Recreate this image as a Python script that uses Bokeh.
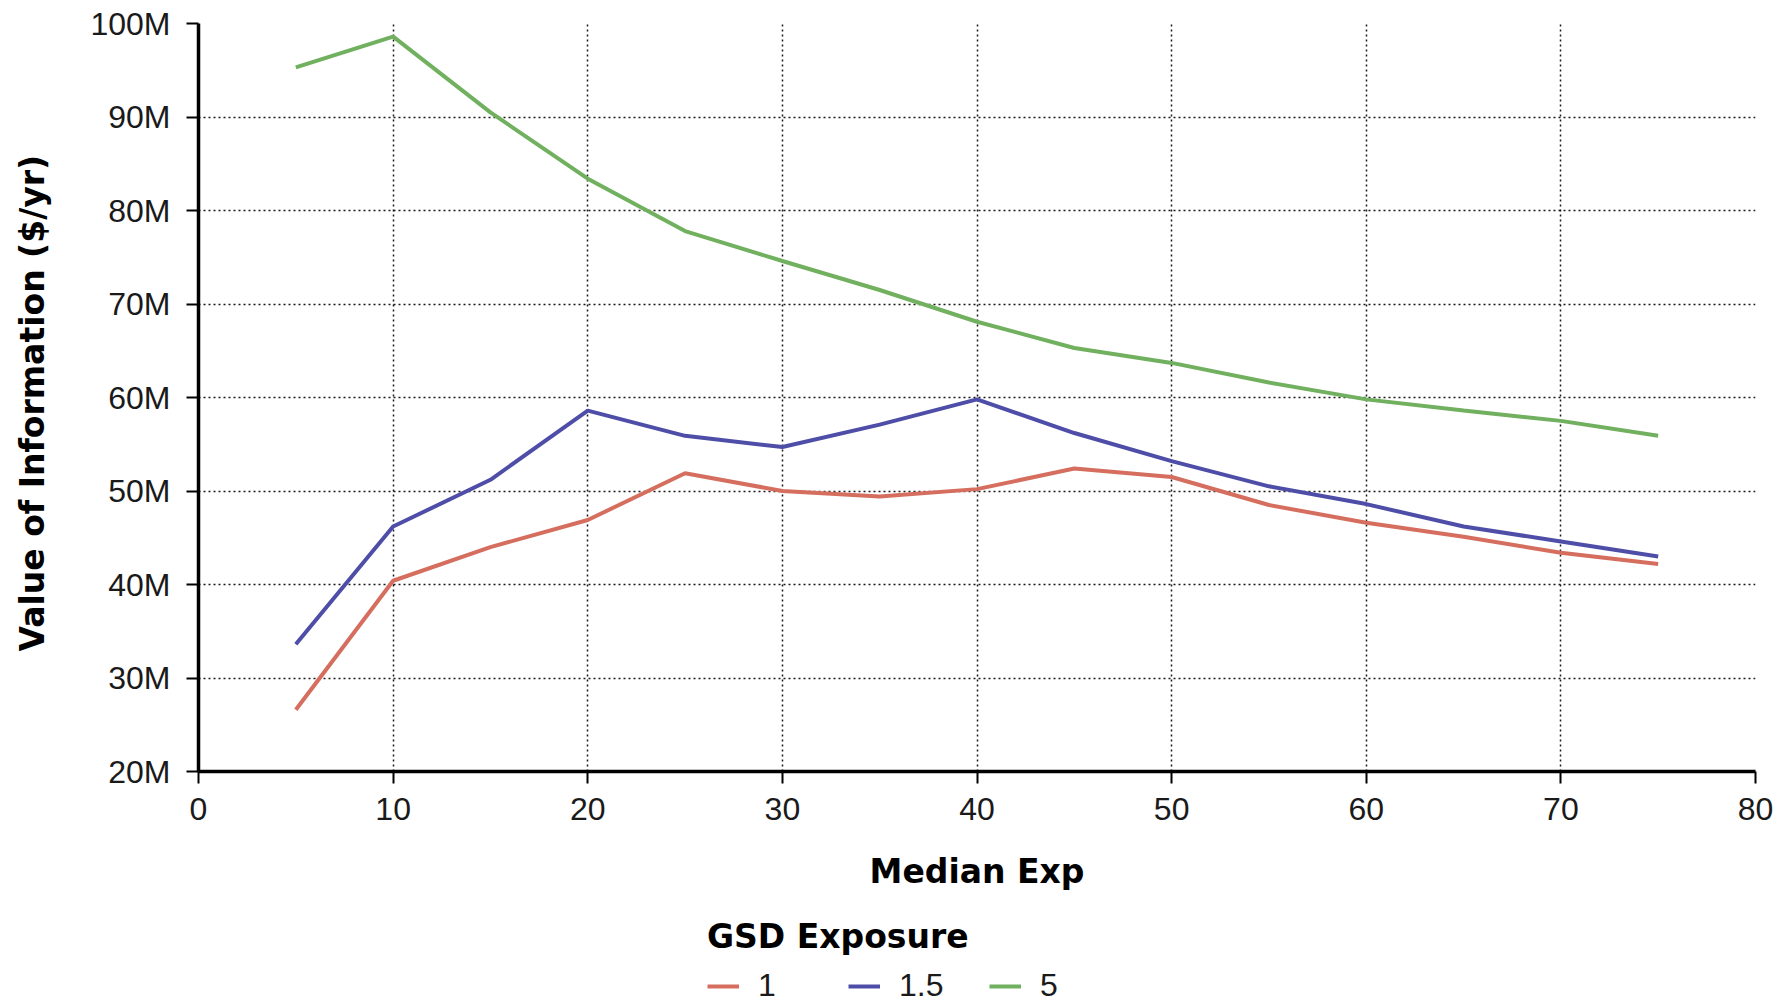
from bokeh.plotting import figure
from bokeh.layouts import column
from bokeh.models import Range1d, FixedTicker, Legend, LegendItem, ColumnDataSource
from bokeh.embed import file_html
from bokeh.resources import INLINE

# ---- data (values in millions of $/yr) ----
median_exp = [5, 10, 15, 20, 25, 30, 35, 40, 45, 50, 55, 60, 65, 70, 75]
gsd_1 = [26.6, 40.4, 44.0, 46.9, 51.9, 50.0, 49.4, 50.2, 52.4, 51.5, 48.5, 46.6, 45.1, 43.4, 42.2]
gsd_1_5 = [33.6, 46.2, 51.2, 58.6, 55.9, 54.7, 57.1, 59.8, 56.2, 53.2, 50.5, 48.6, 46.2, 44.6, 43.0]
gsd_5 = [95.3, 98.6, 90.5, 83.4, 77.8, 74.6, 71.5, 68.1, 65.3, 63.7, 61.6, 59.8, 58.6, 57.5, 55.9]

series_labels = ["1", "1.5", "5"]
series_colors = ["#d56e5e", "#4e4ea8", "#71b05f"]

x_ticks = [0, 10, 20, 30, 40, 50, 60, 70, 80]
y_ticks = [20, 30, 40, 50, 60, 70, 80, 90, 100]
y_tick_labels = ["20M", "30M", "40M", "50M", "60M", "70M", "80M", "90M", "100M"]

TICK_FONT = "Liberation Sans"
TITLE_FONT = "DejaVu Sans"

src = ColumnDataSource(dict(x=median_exp, g1=gsd_1, g15=gsd_1_5, g5=gsd_5))
cols = ["g1", "g15", "g5"]

# ---- main chart ----
p = figure(width=1790, height=910, output_backend="svg", toolbar_location=None,
           x_range=Range1d(0, 80), y_range=Range1d(20, 100),
           min_border_left=198, min_border_right=35, min_border_top=23, min_border_bottom=139)
p.outline_line_color = None
p.background_fill_color = "white"
p.border_fill_color = "white"

for col, color in zip(cols, series_colors):
    p.line("x", col, source=src, line_color=color, line_width=4)

p.xaxis.ticker = FixedTicker(ticks=x_ticks)
p.yaxis.ticker = FixedTicker(ticks=y_ticks)
p.yaxis.major_label_overrides = {t: l for t, l in zip(y_ticks, y_tick_labels)}
for ax in (p.xaxis, p.yaxis):
    ax.axis_line_color = "black"
    ax.axis_line_width = 3.5
    ax.major_tick_line_color = "black"
    ax.major_tick_line_width = 2
    ax.major_tick_out = 12
    ax.major_tick_in = 0
    ax.minor_tick_line_color = None
    ax.major_label_text_font = TICK_FONT
    ax.major_label_text_font_size = "32px"
    ax.major_label_text_color = "#1a1a1a"
    ax.axis_label_text_font = TITLE_FONT
    ax.axis_label_text_font_style = "bold"
    ax.axis_label_text_font_size = "33px"
    ax.axis_label_text_color = "black"

p.xaxis.axis_label = "Median Exp"
p.yaxis.axis_label = "Value of  Information ($/yr)"
p.xaxis.major_label_standoff = 14
p.yaxis.major_label_standoff = 16
p.xaxis.axis_label_standoff = 29
p.yaxis.axis_label_standoff = 35

for g in (p.xgrid, p.ygrid):
    g.grid_line_color = "black"
    g.grid_line_dash = "2 3"
    g.grid_line_width = 1.5
    g.grid_line_alpha = 0.9

# ---- legend strip below the chart (same series, drawn out of view) ----
lg = figure(width=1790, height=94, output_backend="svg", toolbar_location=None,
            x_range=Range1d(0, 80), y_range=Range1d(-10, 0),
            x_axis_location=None, y_axis_location=None,
            min_border_left=198, min_border_right=35, min_border_top=0, min_border_bottom=0)
lg.outline_line_color = None
lg.xgrid.visible = False
lg.ygrid.visible = False
lg.background_fill_color = "white"
lg.border_fill_color = "white"

key_renderers = [lg.line("x", col, source=src, line_color=c, line_width=4)
                 for col, c in zip(cols, series_colors)]

legend = Legend(
    items=[LegendItem(label=lab, renderers=[r]) for lab, r in zip(series_labels, key_renderers)],
    title="GSD Exposure",
    orientation="horizontal",
    location=(509, 0),
    padding=0, margin=0, spacing=20,
    glyph_width=32, glyph_height=20, label_width=70, label_standoff=19,
    title_standoff=11,
    border_line_color=None, background_fill_alpha=0,
    label_text_font=TICK_FONT, label_text_font_size="32px", label_text_color="#1a1a1a",
    title_text_font=TITLE_FONT, title_text_font_style="bold", title_text_font_size="33px",
    title_text_color="black",
)
lg.add_layout(legend, "center")

layout = column(p, lg, spacing=0)
open("out.html", "w").write(file_html(layout, INLINE))
